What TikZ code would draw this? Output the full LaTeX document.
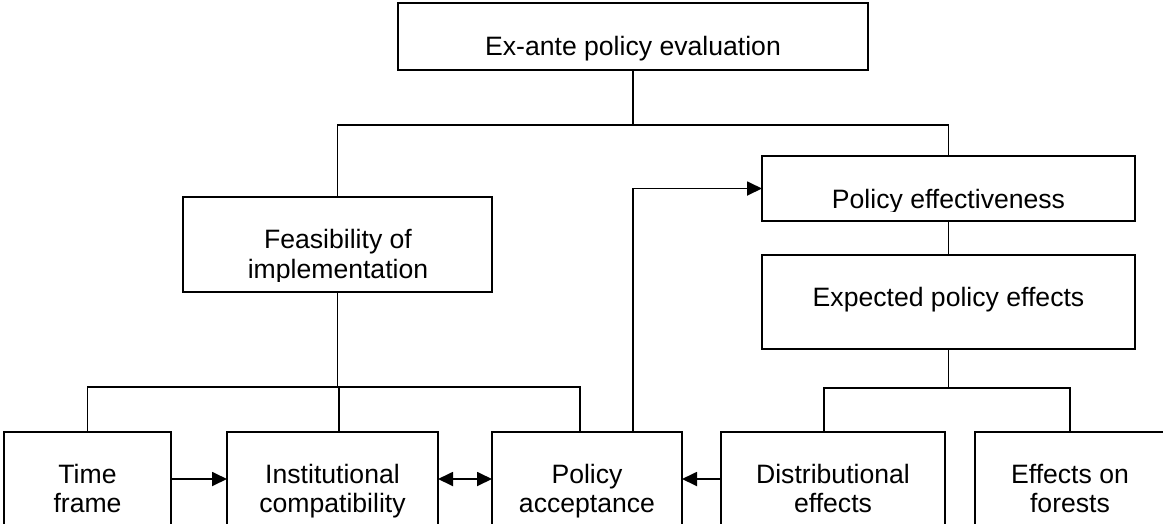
\documentclass[tikz,border=0pt]{standalone}
\usepackage{fontspec}
\setmainfont{Liberation Sans}
\usetikzlibrary{arrows.meta}
\tikzset{
  box/.style={draw, line width=1.8pt, inner sep=0pt, outer sep=0pt},
  conn/.style={line width=1.8pt},
  arr/.style={conn, -{Triangle[length=15pt,width=14pt]}},
  darr/.style={conn, {Triangle[length=15pt,width=14pt]}-{Triangle[length=15pt,width=14pt]}},
  txt/.style={anchor=base, inner sep=0pt, font=\fontsize{26.6}{30}\selectfont},
}
\begin{document}
\begin{tikzpicture}[x=1pt,y=-1pt]
\useasboundingbox (0,0) rectangle (1163,523);
\clip (0,0) rectangle (1163,523);
% boxes
\node[box, minimum width=470pt, minimum height=67pt] (top) at (633,36.5) {};
\node[box, minimum width=309pt, minimum height=95pt] (feas) at (337.5,244.5) {};
\node[box, minimum width=373pt, minimum height=65pt] (peff) at (948.5,188.5) {};
\node[box, minimum width=373pt, minimum height=94pt] (exp) at (948.5,302) {};
\node[box, minimum width=167pt, minimum height=128pt] (time) at (87.5,496) {};
\node[box, minimum width=211pt, minimum height=128pt] (inst) at (332.5,496) {};
\node[box, minimum width=190pt, minimum height=128pt] (acc) at (587,496) {};
\node[box, minimum width=224pt, minimum height=128pt] (dist) at (833,496) {};
\node[box, minimum width=190pt, minimum height=128pt] (forest) at (1070,496) {};
% bus coordinates
\coordinate (busA) at (0,125);
\coordinate (busB) at (0,387);
\coordinate (busC) at (0,388);
\coordinate (arrowrow) at (0,479);
% connectors
\draw[conn] (top.south) -- (top.south |- busA);
\draw[conn] (feas.north) -- (feas.north |- busA) -- (peff.north |- busA) -- (peff.north);
\draw[conn] (peff.south) -- (exp.north);
\draw[conn] (feas.south) -- (feas.south |- busB);
\draw[conn] (time.north) -- (time.north |- busB) -- ([xshift=-7pt]acc.north |- busB) -- ([xshift=-7pt]acc.north);
\draw[conn] ([xshift=6.5pt]inst.north) -- ([xshift=6.5pt]inst.north |- busB);
\draw[conn] (exp.south) -- (exp.south |- busC);
\draw[conn] ([xshift=-9pt]dist.north) -- ([xshift=-9pt]dist.north |- busC) -- (forest.north |- busC) -- (forest.north);
\draw[arr] ([xshift=46pt]acc.north) |- (peff.west);
\draw[arr] (time.east |- arrowrow) -- (inst.west |- arrowrow);
\draw[darr] (inst.east |- arrowrow) -- (acc.west |- arrowrow);
\draw[arr] (dist.west |- arrowrow) -- (acc.east |- arrowrow);
% texts
\node[txt] (ttop) at (633,55) {Ex-ante policy evaluation};
\begin{scope}
  \clip (183,197) rectangle (492,281);
  \node[txt] (tfeas1) at (338,248) {Feasibility of};
  \node[txt] (tfeas2) at (338,278) {implementation};
\end{scope}
\begin{scope}
  \clip (762,156) rectangle (1135,211);
  \node[txt] (tpeff) at (948.5,208) {Policy effectiveness};
\end{scope}
\node[txt] (texp) at (948.5,306) {Expected policy effects};
\node[txt] (ttime1) at (87.5,483) {Time};
\node[txt] (ttime2) at (87.5,512) {frame};
\node[txt] (tinst1) at (332.5,483) {Institutional};
\node[txt] (tinst2) at (332.5,512) {compatibility};
\node[txt] (tacc1) at (587,483) {Policy};
\node[txt] (tacc2) at (587,512) {acceptance};
\node[txt] (tdist1) at (833,483) {Distributional};
\node[txt] (tdist2) at (833,512) {effects};
\node[txt] (tfor1) at (1070,483) {Effects on};
\node[txt] (tfor2) at (1070,512) {forests};
\end{tikzpicture}
\end{document}
